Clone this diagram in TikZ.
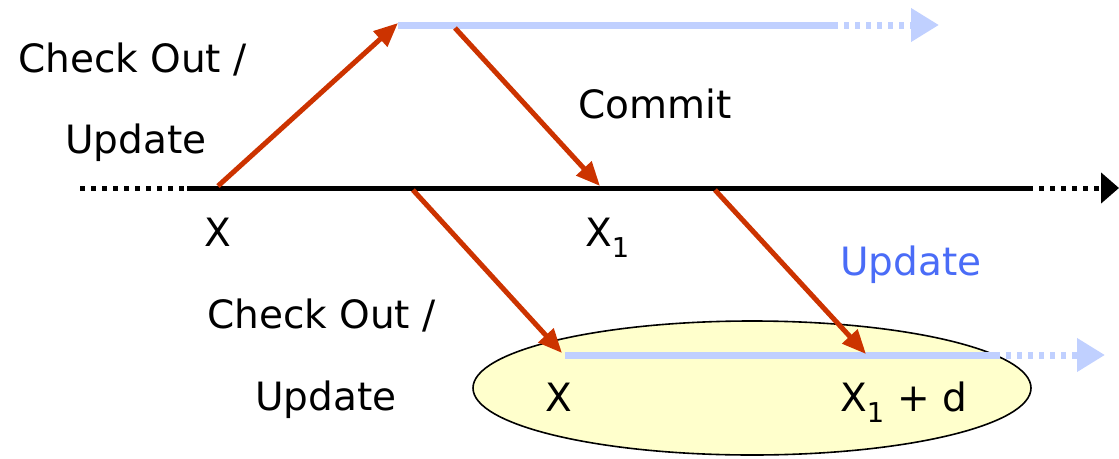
\documentclass[tikz,border=0pt]{standalone}
\usepackage{fontspec}
\setmainfont{DejaVu Sans}
\usetikzlibrary{arrows.meta}
\definecolor{myred}{HTML}{CC3300}
\definecolor{lblue}{HTML}{C0D0FF}
\definecolor{tblue}{HTML}{4A6CF7}
\definecolor{ellfill}{HTML}{FFFFCC}
\tikzset{
  lbl/.style={anchor=base west, inner sep=0pt, font=\fontsize{39}{46}\selectfont},
  redarrow/.style={draw=myred, line width=5pt, -{Triangle[length=24pt,width=20pt]}},
  blackline/.style={draw=black, line width=5pt},
  blueline/.style={draw=lblue, line width=7pt},
  dotted line/.style={dash pattern=on 5pt off 6pt},
}
\begin{document}
\begin{tikzpicture}[x=1pt,y=-1pt]
\useasboundingbox (0,0) rectangle (1119,458);

% ellipse (bottom working copy)
\draw[fill=ellfill, line width=1.6pt] (752,388) ellipse [x radius=279, y radius=67];

% main (black) line
\coordinate (b0) at (80,188);
\coordinate (b1) at (187,188);
\coordinate (b2) at (1028,188);
\coordinate (b3) at (1119,188);
\draw[blackline, dotted line] (b0) -- (b1);
\draw[blackline] (b1) -- (b2);
\draw[blackline, dotted line, -{Triangle[length=18pt,width=30pt]}] (b2) -- (b3);

% top blue line
\coordinate (t0) at (398,25);
\coordinate (t1) at (833,25);
\coordinate (t2) at (939,25);
\draw[blueline] (t0) -- (t1);
\draw[blueline, dotted line, -{Triangle[length=28pt,width=32pt]}] (t1) -- (t2);

% bottom blue line
\coordinate (u0) at (565,355);
\coordinate (u1) at (995,355);
\coordinate (u2) at (1105,355);
\draw[blueline] (u0) -- (u1);
\draw[blueline, dotted line, -{Triangle[length=28pt,width=32pt]}] (u1) -- (u2);

% red arrows
\coordinate (a1s) at (218,186);
\coordinate (a1e) at (398,23);
\coordinate (a2s) at (455,28);
\coordinate (a2e) at (600,186);
\coordinate (a3s) at (413,190);
\coordinate (a3e) at (562,353);
\coordinate (a4s) at (715,190);
\coordinate (a4e) at (866,354);
\draw[redarrow] (a1s) -- (a1e);
\draw[redarrow] (a2s) -- (a2e);
\draw[redarrow] (a3s) -- (a3e);
\draw[redarrow] (a4s) -- (a4e);

% labels
\node[lbl] (co1) at (18,72) {Check Out /};
\node[lbl] (up1) at (65,153) {Update};
\node[lbl] (cm) at (578,118) {Commit};
\node[lbl] (x0) at (204,246) {X};
\node[lbl] (x1) at (585,246) {X\textsubscript{1}};
\node[lbl, text=tblue] (up3) at (840,275) {Update};
\node[lbl] (co2) at (207,328) {Check Out /};
\node[lbl] (up2) at (255,410) {Update};
\node[lbl] (x2) at (545,411) {X};
\node[lbl] (x3) at (840,411) {X\textsubscript{1} + d};
\end{tikzpicture}
\end{document}
